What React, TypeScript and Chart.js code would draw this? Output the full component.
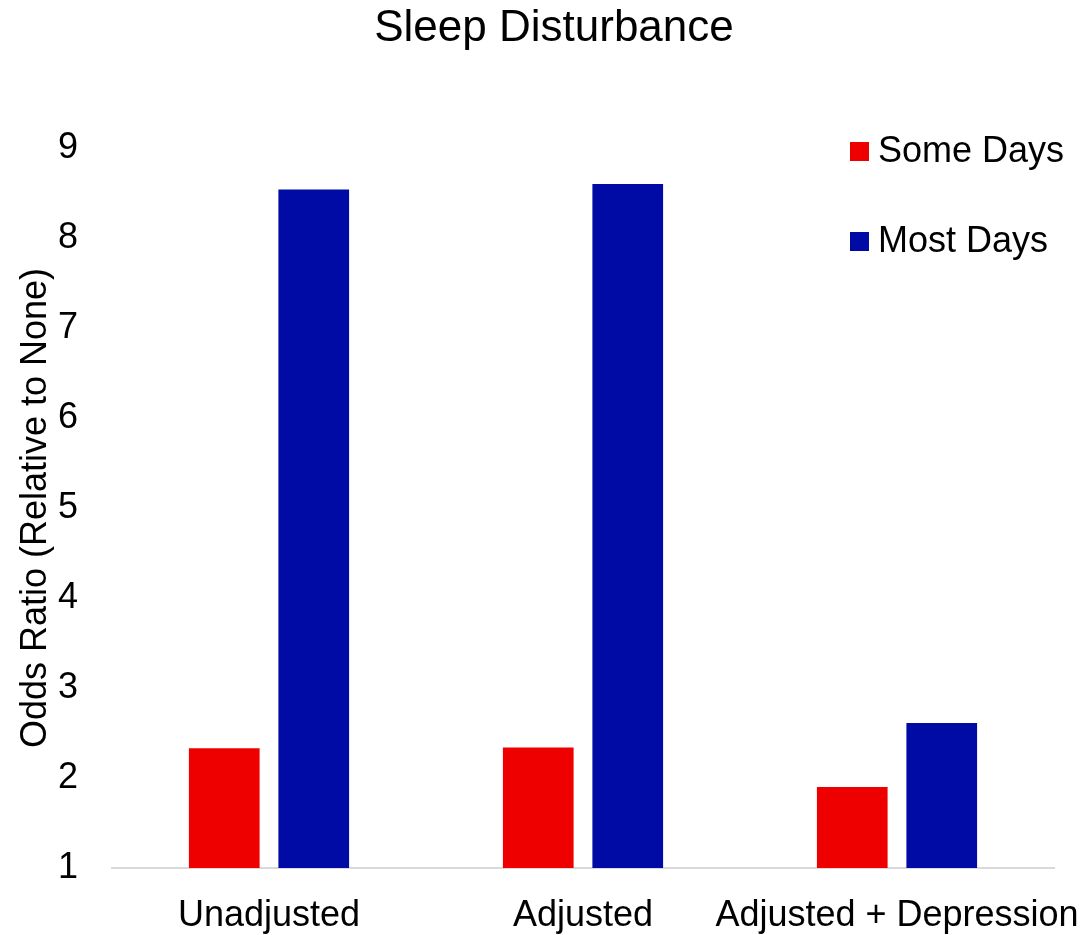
import React, { useEffect, useRef } from "react";
import { Chart, registerables } from "chart.js";

Chart.register(...registerables);

const categories = ["Unadjusted", "Adjusted", "Adjusted + Depression"];
const someDays = [2.33, 2.34, 1.9];
const mostDays = [8.54, 8.6, 2.61];
const seriesNames = ["Some Days", "Most Days"];
const seriesColors = ["#EE0000", "#000AA4"];
const yMin = 1;
const yMax = 9;

const FONT = "'Liberation Sans', Arial, Helvetica, sans-serif";

// Vertical legend drawn in the top-right corner of the plot area
const cornerLegend = {
  id: "cornerLegend",
  afterDraw(chart: any) {
    const { ctx, chartArea } = chart;
    ctx.save();
    ctx.font = `36px ${FONT}`;
    ctx.textBaseline = "alphabetic";
    ctx.textAlign = "left";
    chart.data.datasets.forEach((ds: any, i: number) => {
      const baseY = chartArea.top + 14 + i * 90;
      const boxX = chartArea.right - 204;
      ctx.fillStyle = ds.backgroundColor;
      ctx.fillRect(boxX, baseY - 20, 19, 19);
      ctx.fillStyle = "#000000";
      ctx.fillText(ds.label, boxX + 28, baseY);
    });
    ctx.restore();
  },
};

export default function App() {
  const canvasRef = useRef<HTMLCanvasElement | null>(null);

  useEffect(() => {
    if (!canvasRef.current) return;
    const chart = new Chart(canvasRef.current, {
      type: "bar",
      data: {
        labels: categories,
        datasets: [
          {
            label: seriesNames[0],
            data: someDays,
            backgroundColor: seriesColors[0],
            categoryPercentage: 0.57,
            barPercentage: 0.79,
          },
          {
            label: seriesNames[1],
            data: mostDays,
            backgroundColor: seriesColors[1],
            categoryPercentage: 0.57,
            barPercentage: 0.79,
          },
        ],
      },
      options: {
        animation: false,
        responsive: false,
        maintainAspectRatio: false,
        layout: { padding: { left: 17, right: 0, top: 0, bottom: 0 } },
        plugins: {
          legend: { display: false },
          tooltip: { enabled: false },
          title: {
            display: true,
            text: "Sleep Disturbance",
            color: "#000000",
            font: { family: FONT, size: 44, weight: "normal" },
            padding: { top: 2, bottom: 93.2 },
          },
        },
        scales: {
          x: {
            grid: { display: false, drawTicks: false },
            border: { display: true, color: "#D9D9D9", width: 2 },
            ticks: {
              color: "#000000",
              font: { family: FONT, size: 36 },
              padding: 26,
              autoSkip: false,
              maxRotation: 0,
              minRotation: 0,
            },
            afterFit(scale: any) {
              scale.height = 67;
              // keep a fixed right margin for the plot area
              scale.paddingLeft = 0;
              scale.paddingRight = 37;
            },
          },
          y: {
            min: yMin,
            max: yMax,
            grid: { display: false, drawTicks: false },
            border: { display: false },
            ticks: {
              stepSize: 1,
              color: "#000000",
              font: { family: FONT, size: 36 },
              padding: 34,
            },
            title: {
              display: true,
              text: "Odds Ratio (Relative to None)",
              color: "#000000",
              font: { family: FONT, size: 36 },
              padding: { top: -3, bottom: 0 },
            },
            afterFit(scale: any) {
              scale.width = 95;
            },
          },
        },
      },
      plugins: [cornerLegend],
    });
    return () => chart.destroy();
  }, []);

  return (
    <div style={{ position: "fixed", left: 0, top: 0, width: 1091, height: 935, background: "#ffffff" }}>
      <canvas ref={canvasRef} width={1091} height={935} style={{ display: "block" }} />
    </div>
  );
}
